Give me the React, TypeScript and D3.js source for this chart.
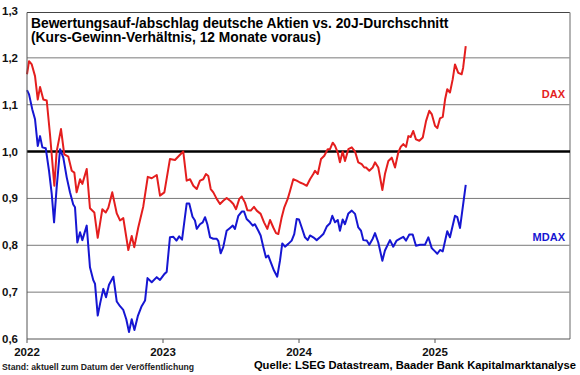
import React from 'react';
import * as d3 from 'd3';

const W = 580;
const H = 375;

const yTicks = [0.6, 0.7, 0.8, 0.9, 1.0, 1.1, 1.2, 1.3];
const yTickLabels = ['0,6', '0,7', '0,8', '0,9', '1,0', '1,1', '1,2', '1,3'];
const xTicks = [2022, 2023, 2024, 2025];

const titleLines = [
  'Bewertungsauf-/abschlag deutsche Aktien vs. 20J-Durchschnitt',
  '(Kurs-Gewinn-Verhältnis, 12 Monate voraus)',
];
const footLeft = 'Stand: aktuell zum Datum der Veröffentlichung';
const footRight = 'Quelle: LSEG Datastream, Baader Bank Kapitalmarktanalyse';

// [decimal year, value]
const dax: [number, number][] = [
  [2022.0, 1.165], [2022.015, 1.193], [2022.035, 1.186], [2022.059, 1.161], [2022.079, 1.111],
  [2022.096, 1.138], [2022.12, 1.111], [2022.145, 1.109], [2022.169, 1.037], [2022.201, 0.927],
  [2022.218, 1.0], [2022.25, 1.048], [2022.274, 0.994], [2022.304, 0.989], [2022.329, 0.959],
  [2022.348, 0.955], [2022.365, 0.913], [2022.39, 0.941], [2022.407, 0.931], [2022.439, 0.963],
  [2022.463, 0.879], [2022.495, 0.87], [2022.52, 0.816], [2022.554, 0.877], [2022.579, 0.87],
  [2022.598, 0.88], [2022.627, 0.913], [2022.66, 0.868], [2022.684, 0.853], [2022.708, 0.858],
  [2022.745, 0.79], [2022.77, 0.82], [2022.789, 0.796], [2022.818, 0.838], [2022.855, 0.883],
  [2022.888, 0.946], [2022.917, 0.943], [2022.954, 0.95], [2022.978, 0.906], [2023.01, 0.913],
  [2023.051, 0.984], [2023.088, 0.982], [2023.118, 0.991], [2023.149, 1.0], [2023.174, 0.938],
  [2023.199, 0.941], [2023.223, 0.927], [2023.248, 0.92], [2023.272, 0.938], [2023.296, 0.941],
  [2023.316, 0.952], [2023.333, 0.948], [2023.351, 0.92], [2023.37, 0.913], [2023.395, 0.899],
  [2023.419, 0.888], [2023.443, 0.895], [2023.468, 0.901], [2023.498, 0.894], [2023.517, 0.888],
  [2023.537, 0.877], [2023.561, 0.899], [2023.579, 0.904], [2023.603, 0.891], [2023.62, 0.875],
  [2023.645, 0.874], [2023.669, 0.882], [2023.689, 0.874], [2023.718, 0.867], [2023.743, 0.849],
  [2023.767, 0.835], [2023.787, 0.854], [2023.811, 0.838], [2023.831, 0.826], [2023.848, 0.824],
  [2023.873, 0.86], [2023.892, 0.881], [2023.917, 0.899], [2023.934, 0.916], [2023.958, 0.941],
  [2023.983, 0.938], [2024.007, 0.934], [2024.032, 0.931], [2024.057, 0.927], [2024.081, 0.941],
  [2024.105, 0.952], [2024.118, 0.959], [2024.138, 0.952], [2024.162, 0.984], [2024.186, 0.991],
  [2024.211, 1.005], [2024.228, 1.005], [2024.248, 1.019], [2024.265, 1.012], [2024.285, 0.998],
  [2024.301, 0.977], [2024.321, 1.0], [2024.338, 0.98], [2024.363, 1.005], [2024.388, 1.009],
  [2024.412, 1.0], [2024.436, 0.977], [2024.461, 0.973], [2024.48, 0.966], [2024.493, 0.966],
  [2024.517, 0.959], [2024.542, 0.966], [2024.559, 0.977], [2024.583, 0.966], [2024.613, 0.918],
  [2024.632, 0.952], [2024.657, 0.98], [2024.682, 0.987], [2024.706, 0.966], [2024.73, 0.998],
  [2024.748, 1.01], [2024.767, 1.016], [2024.787, 1.01], [2024.804, 1.033], [2024.821, 1.031],
  [2024.84, 1.044], [2024.86, 1.026], [2024.885, 1.023], [2024.91, 1.03], [2024.934, 1.065],
  [2024.958, 1.087], [2024.976, 1.08], [2025.0, 1.055], [2025.017, 1.05], [2025.037, 1.071],
  [2025.057, 1.074], [2025.074, 1.111], [2025.09, 1.133], [2025.11, 1.126], [2025.13, 1.154],
  [2025.147, 1.186], [2025.171, 1.168], [2025.196, 1.165], [2025.207, 1.179], [2025.226, 1.225],
];

const mdax: [number, number][] = [
  [2022.0, 1.131], [2022.015, 1.122], [2022.039, 1.09], [2022.059, 1.069], [2022.079, 1.012],
  [2022.096, 1.033], [2022.113, 1.009], [2022.138, 1.007], [2022.162, 0.959], [2022.182, 0.909],
  [2022.199, 0.849], [2022.218, 0.923], [2022.243, 1.005], [2022.267, 0.987], [2022.292, 0.945],
  [2022.316, 0.913], [2022.34, 0.887], [2022.353, 0.881], [2022.37, 0.806], [2022.39, 0.828],
  [2022.407, 0.811], [2022.439, 0.842], [2022.463, 0.753], [2022.488, 0.725], [2022.5, 0.718],
  [2022.52, 0.65], [2022.537, 0.675], [2022.561, 0.707], [2022.581, 0.689], [2022.603, 0.716],
  [2022.635, 0.733], [2022.66, 0.68], [2022.684, 0.67], [2022.708, 0.662], [2022.73, 0.642],
  [2022.75, 0.615], [2022.77, 0.642], [2022.79, 0.619], [2022.816, 0.65], [2022.843, 0.67],
  [2022.868, 0.682], [2022.886, 0.73], [2022.917, 0.721], [2022.954, 0.732], [2022.978, 0.726],
  [2023.011, 0.739], [2023.027, 0.743], [2023.051, 0.817], [2023.076, 0.818], [2023.099, 0.81],
  [2023.119, 0.819], [2023.14, 0.812], [2023.174, 0.889], [2023.193, 0.889], [2023.217, 0.861],
  [2023.235, 0.853], [2023.248, 0.835], [2023.272, 0.845], [2023.292, 0.849], [2023.309, 0.86],
  [2023.326, 0.845], [2023.346, 0.817], [2023.37, 0.814], [2023.395, 0.814], [2023.407, 0.809],
  [2023.424, 0.783], [2023.443, 0.796], [2023.468, 0.831], [2023.493, 0.837], [2023.513, 0.842],
  [2023.529, 0.835], [2023.554, 0.863], [2023.579, 0.872], [2023.596, 0.872], [2023.615, 0.856],
  [2023.64, 0.849], [2023.66, 0.842], [2023.676, 0.845], [2023.701, 0.831], [2023.718, 0.821],
  [2023.738, 0.796], [2023.757, 0.774], [2023.774, 0.778], [2023.792, 0.764], [2023.816, 0.746],
  [2023.84, 0.733], [2023.86, 0.767], [2023.877, 0.804], [2023.897, 0.797], [2023.921, 0.803],
  [2023.946, 0.81], [2023.965, 0.824], [2023.983, 0.856], [2024.0, 0.855], [2024.02, 0.838],
  [2024.044, 0.817], [2024.064, 0.811], [2024.081, 0.821], [2024.105, 0.817], [2024.13, 0.811],
  [2024.154, 0.817], [2024.179, 0.824], [2024.204, 0.84], [2024.228, 0.847], [2024.245, 0.863],
  [2024.265, 0.849], [2024.285, 0.854], [2024.301, 0.831], [2024.321, 0.855], [2024.338, 0.845],
  [2024.363, 0.868], [2024.388, 0.874], [2024.412, 0.867], [2024.436, 0.838], [2024.456, 0.831],
  [2024.473, 0.811], [2024.498, 0.81], [2024.517, 0.801], [2024.542, 0.814], [2024.559, 0.826],
  [2024.583, 0.806], [2024.613, 0.767], [2024.632, 0.789], [2024.669, 0.811], [2024.693, 0.797],
  [2024.718, 0.81], [2024.743, 0.814], [2024.767, 0.818], [2024.787, 0.81], [2024.811, 0.823],
  [2024.836, 0.823], [2024.86, 0.799], [2024.89, 0.801], [2024.926, 0.801], [2024.951, 0.817],
  [2024.976, 0.794], [2025.0, 0.787], [2025.017, 0.782], [2025.037, 0.79], [2025.057, 0.787],
  [2025.09, 0.83], [2025.11, 0.817], [2025.147, 0.863], [2025.164, 0.86], [2025.184, 0.837],
  [2025.226, 0.929],
];

const seriesNames = ['DAX', 'MDAX'];
const seriesColors = ['#e41e1e', '#1616d2'];
const labelValues = [1.122, 0.817];

const FONT = 'Arial, "Liberation Sans", sans-serif';

export default function App() {
  const left = 27;
  const right = 570;
  const top = 11;
  const bottom = 339;

  const x = d3.scaleLinear().domain([2022, 2026]).range([left, 571]);
  const y = d3.scaleLinear().domain([0.6, 1.3]).range([bottom, top]);

  const line = d3
    .line<[number, number]>()
    .x((d) => x(d[0]))
    .y((d) => y(d[1]));

  return (
    <svg
      width={W}
      height={H}
      style={{ position: 'absolute', left: 0, top: 0, display: 'block', background: '#fff' }}
      fontFamily={FONT}
    >
      <rect x={0} y={0} width={W} height={H} fill="#fff" />
      {yTicks
        .filter((t) => t !== 0.6 && t !== 1.0 && t !== 1.3)
        .map((t) => (
          <line key={t} x1={left} x2={right} y1={y(t)} y2={y(t)} stroke="#7a7a7a" strokeWidth={1} />
        ))}
      <line x1={left} x2={right} y1={y(1.3) + 1.5} y2={y(1.3) + 1.5} stroke="#444" strokeWidth={1} />
      <line x1={right} x2={right} y1={y(1.3) + 1.5} y2={bottom} stroke="#9a9a9a" strokeWidth={1.5} />
      <line x1={left} x2={right} y1={y(1.0)} y2={y(1.0)} stroke="#000" strokeWidth={2.5} />
      {[dax, mdax].map((s, i) => (
        <path key={i} d={line(s) || ''} fill="none" stroke={seriesColors[i]} strokeWidth={2} strokeLinejoin="round" />
      ))}
      <line x1={left} x2={left} y1={y(1.3) + 1.5} y2={bottom} stroke="#555" strokeWidth={1} />
      <line x1={left} x2={right} y1={bottom} y2={bottom} stroke="#555" strokeWidth={1} />
      {xTicks.map((t) => (
        <g key={t}>
          <line x1={x(t)} x2={x(t)} y1={bottom} y2={bottom + 4} stroke="#555" strokeWidth={1} />
          <text x={x(t)} y={356} textAnchor="middle" fontSize={11.5} fontWeight="bold" fill="#111">
            {t}
          </text>
        </g>
      ))}
      {yTicks.map((t, i) => (
        <text key={t} x={18} y={y(t) + 4} textAnchor="end" fontSize={11.5} fontWeight="bold" fill="#111">
          {yTickLabels[i]}
        </text>
      ))}
      <text fontSize={13.8} fontWeight="bold" fill="#000">
        {titleLines.map((t, i) => (
          <tspan key={i} x={31} y={27.5 + i * 14.5}>
            {t}
          </tspan>
        ))}
      </text>
      {seriesNames.map((n, i) => (
        <text key={n} x={565} y={y(labelValues[i]) + 4} textAnchor="end" fontSize={11} fontWeight="bold" fill={seriesColors[i]}>
          {n}
        </text>
      ))}
      <text x={2} y={370} fontSize={9.5} fontWeight="bold" fill="#222" textLength={192} lengthAdjust="spacingAndGlyphs">
        {footLeft}
      </text>
      <text x={576} y={369} textAnchor="end" fontSize={11.2} fontWeight="bold" fill="#000">
        {footRight}
      </text>
    </svg>
  );
}
